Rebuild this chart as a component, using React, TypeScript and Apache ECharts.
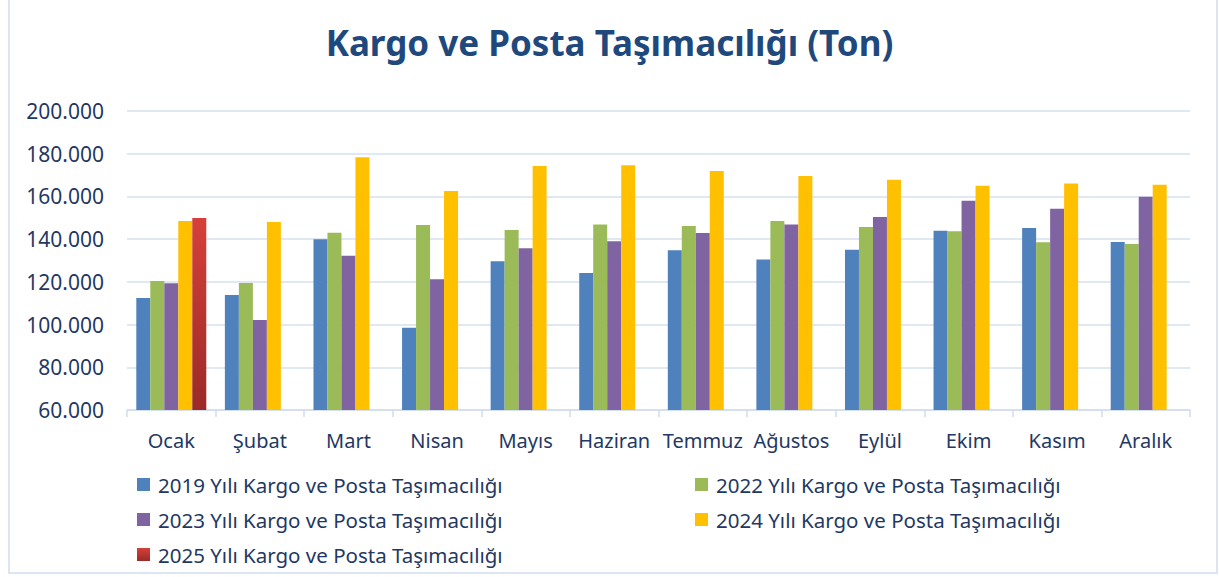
import React, { useEffect, useRef } from "react";
import * as echarts from "echarts";

const months = ["Ocak", "Şubat", "Mart", "Nisan", "Mayıs", "Haziran", "Temmuz", "Ağustos", "Eylül", "Ekim", "Kasım", "Aralık"];
const s2019 = [112400, 113800, 140000, 98500, 129600, 124100, 134800, 130500, 135000, 143900, 145200, 138700];
const s2022 = [120400, 119500, 143000, 146600, 144300, 146800, 146100, 148500, 145700, 143700, 138500, 137700];
const s2023 = [119300, 102100, 132200, 121200, 135700, 139000, 142900, 146800, 150400, 158000, 154200, 159900];
const s2024 = [148500, 148000, 178300, 162500, 174200, 174600, 171900, 169600, 167800, 165000, 166000, 165500];
const s2025 = [149900, null, null, null, null, null, null, null, null, null, null, null];
const seriesNames = [
  "2019 Yılı Kargo ve Posta Taşımacılığı",
  "2022 Yılı Kargo ve Posta Taşımacılığı",
  "2023 Yılı Kargo ve Posta Taşımacılığı",
  "2024 Yılı Kargo ve Posta Taşımacılığı",
  "2025 Yılı Kargo ve Posta Taşımacılığı",
];
const titleText = "Kargo ve Posta Taşımacılığı (Ton)";

const FONT = "'Noto Sans', sans-serif";
const TEXT_COLOR = "#1F3864";

export default function App() {
  const ref = useRef<HTMLDivElement>(null);
  useEffect(() => {
    if (!ref.current) return;
    const chart = echarts.init(ref.current, undefined, { renderer: "svg" });
    const red = new echarts.graphic.LinearGradient(0, 0, 0, 1, [
      { offset: 0, color: "#D6403A" },
      { offset: 1, color: "#9A2A28" },
    ]);
    const colors: any[] = ["#4F81BD", "#9BBB59", "#8064A2", "#FFC000", red];
    const datas = [s2019, s2022, s2023, s2024, s2025];
    const legendPos = [
      { left: 132, top: 469 },
      { left: 690, top: 469 },
      { left: 132, top: 504 },
      { left: 690, top: 504 },
      { left: 132, top: 539 },
    ];
    chart.setOption({
      animation: false,
      title: {
        text: titleText,
        left: "center",
        top: 20,
        textStyle: { fontFamily: FONT, fontSize: 35, fontWeight: "bold", color: "#1F497D" },
      },
      graphic: [
        {
          type: "rect",
          shape: { x: 9, y: -2, width: 1208, height: 575 },
          style: { fill: "none", stroke: "#D0DDEF", lineWidth: 1.5 },
          silent: true,
        },
      ],
      legend: seriesNames.map((n, i) => ({
        data: [n],
        left: legendPos[i].left,
        top: legendPos[i].top,
        itemWidth: 13,
        itemHeight: 13,
        icon: "rect",
        textStyle: { fontFamily: FONT, fontSize: 20.5, color: TEXT_COLOR, padding: [0, 0, 0, 3] },
      })),
      grid: { left: 127, right: 29, top: 111, bottom: 167 },
      xAxis: {
        type: "category",
        data: months,
        axisLine: { lineStyle: { color: "#D0DDEF", width: 1.5 } },
        axisTick: { show: true, length: 7, lineStyle: { color: "#D0DDEF", width: 1.5 } },
        axisLabel: { interval: 0, fontFamily: FONT, fontSize: 20, color: TEXT_COLOR, margin: 20 },
      },
      yAxis: {
        type: "value",
        min: 60000,
        max: 200000,
        interval: 20000,
        axisLine: { show: false },
        axisTick: { show: false },
        splitLine: { lineStyle: { color: "#D6E0F0", width: 1.5 } },
        axisLabel: {
          fontFamily: FONT,
          fontSize: 21,
          color: TEXT_COLOR,
          margin: 23,
          formatter: (v: number) => String(v / 1000) + ".000",
        },
      },
      series: seriesNames.map((n, i) => ({
        name: n,
        type: "bar",
        data: datas[i],
        barGap: "0%",
        barCategoryGap: "21%",
        itemStyle: { color: colors[i] },
      })),
    });
    return () => chart.dispose();
  }, []);
  return <div ref={ref} style={{ position: "absolute", left: 0, top: 0, width: 1219, height: 577 }} />;
}
